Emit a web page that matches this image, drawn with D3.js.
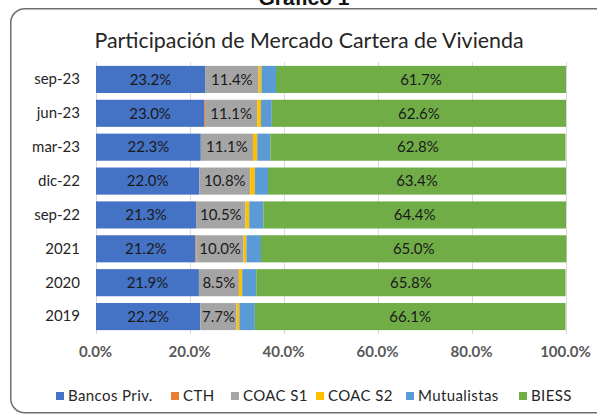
<!DOCTYPE html>
<html><head><meta charset="utf-8">
<script src="https://cdn.jsdelivr.net/npm/d3@7"></script>
<style>html,body{margin:0;padding:0;background:#fff;}svg{display:block;}</style>
</head><body>
<svg id="c" width="597" height="416"></svg>
<script>
const categories = ["sep-23","jun-23","mar-23","dic-22","sep-22","2021","2020","2019"];
const seriesNames = ["Bancos Priv.","CTH","COAC S1","COAC S2","Mutualistas","BIESS"];
const bancos = [23.2,23.0,22.3,22.0,21.3,21.2,21.9,22.2];
const cth = [0,0.2,0,0,0,0.2,0,0];
const coacS1 = [11.4,11.1,11.1,10.8,10.5,10.0,8.5,7.7];
const coacS2 = [0.6,0.8,0.9,1.0,0.8,0.6,0.7,0.6];
const mutualistas = [3.1,2.3,2.8,2.8,3.0,3.1,3.0,3.3];
const biess = [61.7,62.6,62.8,63.4,64.4,65.0,65.8,66.1];
const xTicks = [0,20,40,60,80,100];
const labelled = ["Bancos Priv.","COAC S1","BIESS"];

const colors = {"Bancos Priv.":"#4472C4","CTH":"#ED7D31","COAC S1":"url(#dots)","COAC S2":"#FFC000","Mutualistas":"#5B9BD5","BIESS":"#70AD47"};
const legendColors = {"Bancos Priv.":"#4472C4","CTH":"#ED7D31","COAC S1":"#A5A5A5","COAC S2":"#FFC000","Mutualistas":"#5B9BD5","BIESS":"#70AD47"};

const seriesArrays = [bancos,cth,coacS1,coacS2,mutualistas,biess];
const table = categories.map((c,i)=>{const o={cat:c};seriesNames.forEach((s,j)=>o[s]=seriesArrays[j][i]);return o;});

const svg = d3.select("#c");
const FONT = "Lato, 'Open Sans', sans-serif";

const defs = svg.append("defs");
const pat = defs.append("pattern").attr("id","dots").attr("patternUnits","userSpaceOnUse").attr("width",2).attr("height",2);
pat.append("rect").attr("width",2).attr("height",2).attr("fill","#aaaaaa");
pat.append("rect").attr("width",1).attr("height",1).attr("fill","#9c9c9c");
pat.append("rect").attr("x",1).attr("y",1).attr("width",1).attr("height",1).attr("fill","#a2a2a2");

// page header (cut off at the top, as in the source)
svg.append("text").attr("x",304).attr("y",5).attr("text-anchor","middle")
  .attr("font-family","'Liberation Sans', Arial, sans-serif").attr("font-weight","bold").attr("font-size",21)
  .attr("fill","#111").text("Gráfico 1");

// frame
svg.append("rect").attr("x",10.75).attr("y",8.75).attr("width",600).attr("height",404).attr("rx",14)
  .attr("fill","#fff").attr("stroke","#6f6f6f").attr("stroke-width",1.5);

svg.append("text").attr("x",309).attr("y",48).attr("text-anchor","middle")
  .attr("font-family",FONT).attr("font-size",21.4).attr("fill","#262626")
  .text("Participación de Mercado Cartera de Vivienda");

const x = d3.scaleLinear().domain([0,100]).range([96,566]);
const y = d3.scaleBand().domain(categories).range([62.5,333.5]).paddingInner(0.2).paddingOuter(0.1);

// gridlines
svg.append("g").selectAll("line").data(xTicks).join("line")
  .attr("x1",d=>x(d)+0.5).attr("x2",d=>x(d)+0.5).attr("y1",62).attr("y2",334)
  .attr("stroke","#d9d9d9").attr("stroke-width",1);

const stack = d3.stack().keys(seriesNames)(table);

const g = svg.append("g");
stack.forEach(layer=>{
  g.append("g").selectAll("rect").data(layer).join("rect")
    .attr("x",d=>x(d[0])).attr("width",d=>Math.max(0,x(d[1])-x(d[0])))
    .attr("y",d=>y(d.data.cat)).attr("height",y.bandwidth())
    .attr("fill",colors[layer.key]);
});
stack.filter(l=>labelled.includes(l.key)).forEach(layer=>{
  g.append("g").selectAll("text").data(layer).join("text")
    .attr("x",d=>(x(d[0])+x(d[1]))/2).attr("y",d=>y(d.data.cat)+y.bandwidth()/2)
    .attr("dy","0.35em").attr("text-anchor","middle")
    .attr("font-family",FONT).attr("font-size",15).attr("fill","#1a1a1a")
    .text(d=>d3.format(".1f")(d.data[layer.key])+"%");
});

// y axis labels
const yAxis = d3.axisLeft(y).tickSize(0).tickPadding(0);
const ya = svg.append("g").attr("transform","translate(80,0)").call(yAxis);
ya.select(".domain").remove();
ya.selectAll("text").attr("font-family",FONT).attr("font-size",15).attr("fill","#262626");

// x axis labels
const xAxis = d3.axisBottom(x).tickValues(xTicks).tickSize(0).tickPadding(0).tickFormat(d=>d3.format(".1f")(d)+"%");
const xa = svg.append("g").attr("transform","translate(-1,346)").call(xAxis);
xa.select(".domain").remove();
xa.selectAll("text").attr("font-family",FONT).attr("font-size",15).attr("font-weight","bold").attr("fill","#595959");

// legend
const legX = [56,171,231,316,406,519];
const lg = svg.append("g").selectAll("g").data(seriesNames).join("g")
  .attr("transform",(d,i)=>`translate(${legX[i]},392)`);
lg.append("rect").attr("width",8).attr("height",8).attr("fill",d=>legendColors[d]);
lg.append("text").attr("x",12).attr("y",4).attr("dy","0.35em")
  .attr("font-family",FONT).attr("font-size",15).attr("letter-spacing",0.4).attr("fill","#262626").text(d=>d);
</script>
</body></html>
